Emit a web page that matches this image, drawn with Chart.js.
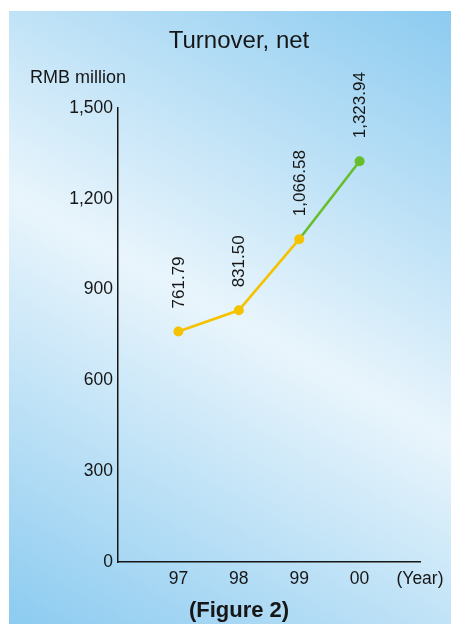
<!DOCTYPE html>
<html>
<head>
<meta charset="utf-8">
<script src="https://cdn.jsdelivr.net/npm/chart.js@4/dist/chart.umd.min.js"></script>
<style>
  html, body { margin: 0; padding: 0; background: #ffffff; }
  body { width: 451px; height: 624px; position: relative; overflow: hidden; }
  #panel {
    position: absolute; left: 9px; top: 11px; width: 442px; height: 613px;
    background: linear-gradient(29deg, #8ccbf0 0%, #e9f5fc 50%, #8ccbf0 100%);
  }
  #wrap { position: absolute; left: 23px; top: 0; width: 428px; height: 624px; }
</style>
</head>
<body>
<div id="panel"></div>
<div id="wrap"><canvas id="chart" width="428" height="624"></canvas></div>
<script>
// Net turnover by financial year, RMB million
const years = ['97', '98', '99', '00'];
const turnover = [761.79, 831.50, 1066.58, 1323.94];
const yTicks = [0, 300, 600, 900, 1200, 1500];
const yearNote = '(Year)';

const FONT = "'Liberation Sans', Arial, sans-serif";
const INK = '#161616';
const YELLOW = '#f5c200';
const GREEN = '#67bd2c';

const fmt2 = v => v.toLocaleString('en-US', { minimumFractionDigits: 2, maximumFractionDigits: 2 });
const fmt0 = v => v.toLocaleString('en-US');

// value captions, written upward above each point
const valueLabels = {
  id: 'valueLabels',
  afterDatasetsDraw(chart) {
    const ctx = chart.ctx;
    const meta = chart.getDatasetMeta(0);
    ctx.save();
    ctx.fillStyle = INK;
    ctx.font = `17px ${FONT}`;
    ctx.textAlign = 'left';
    ctx.textBaseline = 'middle';
    meta.data.forEach((pt, i) => {
      ctx.save();
      ctx.translate(pt.x + 1, pt.y - 23);
      ctx.rotate(-Math.PI / 2);
      ctx.fillText(fmt2(turnover[i]), 0, 0);
      ctx.restore();
    });
    ctx.restore();
  }
};

// unit caption above the value axis
const unitLabel = {
  id: 'unitLabel',
  afterDraw(chart) {
    const ctx = chart.ctx;
    ctx.save();
    ctx.fillStyle = INK;
    ctx.font = `18px ${FONT}`;
    ctx.textAlign = 'left';
    ctx.textBaseline = 'middle';
    ctx.fillText('RMB million', 7, chart.chartArea.top - 30);
    ctx.restore();
  }
};

new Chart(document.getElementById('chart'), {
  type: 'line',
  data: {
    datasets: [{
      data: turnover.map((v, i) => ({ x: i + 1, y: v })),
      borderWidth: 2.6,
      borderColor: YELLOW,
      segment: {
        borderColor: c => (c.p1DataIndex === turnover.length - 1 ? GREEN : YELLOW)
      },
      pointRadius: 5,
      pointHoverRadius: 5,
      pointBorderWidth: 0,
      pointBackgroundColor: turnover.map((v, i) => (i === turnover.length - 1 ? GREEN : YELLOW)),
      tension: 0,
      clip: false
    }]
  },
  options: {
    responsive: false,
    animation: false,
    devicePixelRatio: 1,
    layout: { padding: { left: 35, right: 31, top: 0, bottom: 0 } },
    plugins: {
      legend: { display: false },
      tooltip: { enabled: false },
      title: {
        display: true,
        text: 'Turnover, net',
        color: INK,
        font: { family: FONT, size: 24, weight: 'normal' },
        padding: { top: 27, bottom: 52.2 }
      },
      subtitle: {
        display: true,
        position: 'bottom',
        text: '(Figure 2)',
        color: INK,
        font: { family: FONT, size: 22, weight: 'bold' },
        padding: { top: 0, bottom: 0 }
      }
    },
    scales: {
      x: {
        type: 'linear',
        min: 0,
        max: years.length + 1,
        afterBuildTicks: s => { s.ticks = years.map((y, i) => ({ value: i + 1 })).concat([{ value: years.length + 1 }]); },
        afterFit: s => { s.height = 35.6; },
        grid: { display: false, drawTicks: false },
        border: { display: true, color: INK, width: 1.5 },
        ticks: {
          padding: 7,
          color: INK,
          font: { family: FONT, size: 17.5 },
          maxRotation: 0,
          autoSkip: false,
          callback: v => (v >= 1 && v <= years.length ? years[v - 1] : yearNote)
        }
      },
      y: {
        min: 0,
        max: 1500,
        afterBuildTicks: s => { s.ticks = yTicks.map(v => ({ value: v })); },
        afterFit: s => { s.width = 60; },
        grid: { display: false, drawTicks: false },
        border: { display: true, color: INK, width: 1.5 },
        ticks: {
          padding: 5,
          color: INK,
          font: { family: FONT, size: 17.5 },
          callback: v => fmt0(v)
        }
      }
    }
  },
  plugins: [valueLabels, unitLabel]
});
</script>
</body>
</html>
